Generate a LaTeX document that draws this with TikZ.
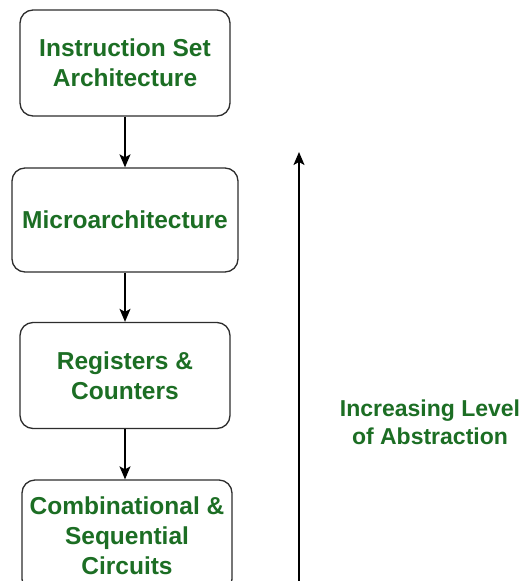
\documentclass[tikz,border=0pt]{standalone}
\usepackage{fontspec}
\setmainfont{Liberation Sans}
\usetikzlibrary{arrows.meta}
\definecolor{levelgreen}{RGB}{28,110,36}
\definecolor{boxline}{RGB}{45,45,45}
\tikzset{
  layer/.style={draw=boxline, line width=1.3pt, rounded corners=13pt, align=center,
    text=levelgreen, font=\fontsize{24.5}{30}\selectfont\bfseries, inner sep=0pt,
    minimum width=210pt, minimum height=106pt},
  flow/.style={draw=black, line width=1.5pt, -{Stealth[length=13pt,width=11pt,inset=3pt]}}
}
\begin{document}
\begin{tikzpicture}[x=1pt,y=1pt]
\fill[white] (0,0) rectangle (520,-581);
\useasboundingbox (0,0) rectangle (520,-581);
\node[layer] (isa) at (125,-63)
{Instruction Set\\Architecture};
\node[layer, minimum width=226pt, minimum height=104pt] (micro) at (125,-220)
{Microarchitecture};
\node[layer] (regs) at (125,-375.5)
{Registers \&\\Counters};
\node[layer, minimum height=112pt] (circ) at (127,-536)
{Combinational \&\\Sequential\\Circuits};
\node[text=levelgreen, align=center, font=\fontsize{23}{28}\selectfont\bfseries] (level) at (430,-422)
{Increasing Level\\of Abstraction};
\coordinate (low) at (299,-590);
\coordinate (high) at (299,-152);
\draw[flow] (isa.south -| 125,0) -- (micro.north -| 125,0);
\draw[flow] (micro) -- (regs);
\draw[flow] (regs.south) -- (regs.south |- circ.north);
\draw[flow] (low) -- (high);
\end{tikzpicture}
\end{document}
